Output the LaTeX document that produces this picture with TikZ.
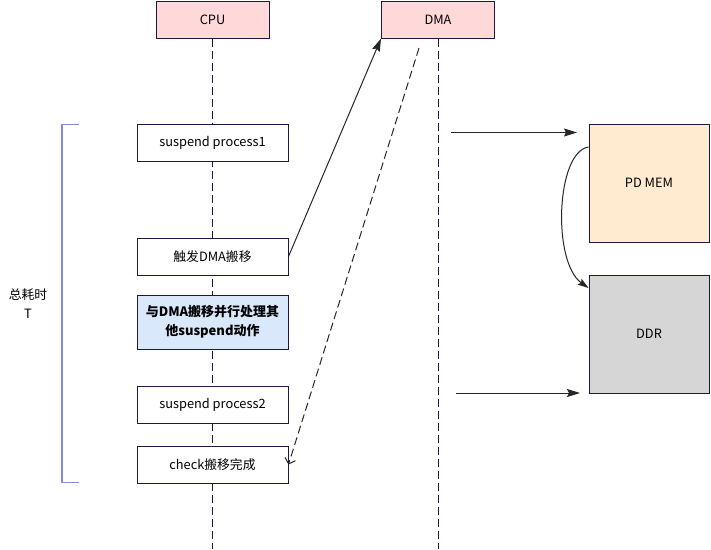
\documentclass[tikz,border=0pt]{standalone}
\usepackage{fontspec}
\setmainfont{Noto Sans CJK SC}
\usetikzlibrary{arrows.meta,positioning}
\definecolor{edge}{HTML}{1A1A40}
\definecolor{headpink}{HTML}{FFD9D9}
\definecolor{parblue}{HTML}{DAE8FC}
\definecolor{pdmem}{HTML}{FFEBD0}
\definecolor{ddrgray}{HTML}{D6D6D6}
\definecolor{bracket}{HTML}{7F8FE0}
\begin{document}
\begin{tikzpicture}[x=1pt,y=-1pt,line width=1pt,font=\fontsize{12.8pt}{16pt}\selectfont]
			\tikzset{head box/.style={draw=edge,fill=headpink,minimum width=113pt,minimum height=37pt,inner sep=0pt}}
			\tikzset{step box/.style={draw=edge,fill=#1,minimum width=151pt,minimum height=37pt,inner sep=0pt,align=center}}
			\tikzset{mem box/.style={draw=edge,fill=#1,minimum width=120pt,minimum height=118pt,inner sep=0pt}}
			\tikzset{life line/.style={draw=edge,dash pattern=on 8pt off 4pt}}
			\useasboundingbox (0,0) rectangle (711,549);
			\node [head box] (cpu) at (212.5,19.5) {CPU};
			\node [head box] (dma) at (438,19.5) {DMA};
			\coordinate (cpuend) at (212.5,549);
			\coordinate (dmaend) at (438,549);
			\draw [life line] (cpu.south) -- (cpuend);
			\draw [life line] (dma.south) -- (dmaend);
			\node [step box = white] (p1) at (212.5,142.5) {suspend process1};
			\node [step box = white] (trig) at (212.5,256.5) {触发DMA搬移};
			\node [step box = parblue,minimum height=54pt,font=\fontsize{13pt}{19pt}\selectfont\bfseries] (par) at (212.5,322) {与DMA搬移并行处理其\\他suspend动作};
			\node [step box = white] (p2) at (212.5,404.5) {suspend process2};
			\node [step box = white] (chk) at (212.5,464.5) {check搬移完成};
			\node [mem box = pdmem] (pd) at (649,183) {PD MEM};
			\node [mem box = ddrgray] (ddr) at (649,334) {DDR};
			% bracket for total time
			\coordinate (bt) at (79,124.5);
			\coordinate (bb) at (79,482.5);
			\draw [bracket,line width=1.2pt] (bt) -- (62,124.5) -- (62,482.5) -- (bb);
			\node [align=center,font=\fontsize{12.8pt}{19pt}\selectfont] (total) at (28,304) {总耗时\\T};
			% connectors
			\draw [black!85,-{Stealth[length=13pt,width=8pt,inset=2pt]}] (trig.east) -- (dma.south west);
			\coordinate (retstart) at (419,48);
			\draw [black!85,dash pattern=on 8pt off 4pt,-{Straight Barb[length=5pt,width=11pt]}] (retstart) -- (chk.east);
			\coordinate (in1) at (451,132.5);
			\coordinate (in2) at (456,393);
			\draw [black!85,-{Stealth[length=13pt,width=8pt,inset=2pt]}] (in1) -- (577,132.5);
			\draw [black!85,-{Stealth[length=13pt,width=8pt,inset=2pt]}] (in2) -- (580,393);
			\draw [black!85,-{Stealth[length=11pt,width=7pt,inset=2pt]}] (pd.west |- 0,147) .. controls (556,152) and (552,262) .. (ddr.west |- 0,288);
		\end{tikzpicture}
\end{document}
